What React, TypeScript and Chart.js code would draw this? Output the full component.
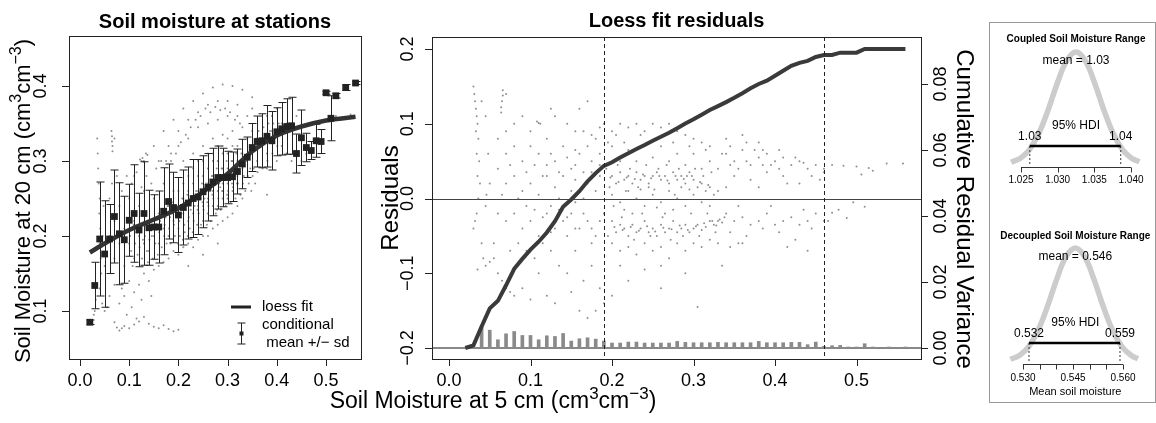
import React, { useEffect, useRef } from "react";
import { Chart, registerables } from "chart.js";
Chart.register(...registerables);

const FONT = '"Liberation Sans", Arial, Helvetica, sans-serif';

// ---------- Left panel data ----------
const BIN_X = [0.02,0.03,0.04,0.05,0.06,0.07,0.08,0.09,0.10,0.11,0.12,0.13,0.14,0.15,0.16,0.17,0.18,0.19,0.20,0.21,0.22,0.23,0.24,0.25,0.26,0.27,0.28,0.29,0.30,0.31,0.32,0.33,0.34,0.35,0.36,0.37,0.38,0.39,0.40,0.41,0.42,0.43,0.44,0.45,0.46,0.47,0.48,0.49,0.50,0.51,0.52,0.54,0.56];
const BIN_MEAN = [0.085,0.134,0.196,0.176,0.196,0.226,0.203,0.195,0.221,0.230,0.208,0.230,0.211,0.212,0.212,0.233,0.246,0.238,0.228,0.238,0.244,0.250,0.252,0.259,0.265,0.272,0.278,0.278,0.278,0.279,0.286,0.296,0.305,0.318,0.326,0.327,0.333,0.327,0.339,0.343,0.346,0.347,0.310,0.331,0.318,0.314,0.327,0.326,0.391,0.357,0.387,0.398,0.404];
const BIN_SD = [0.003,0.031,0.076,0.071,0.046,0.062,0.068,0.058,0.048,0.065,0.049,0.069,0.050,0.043,0.048,0.058,0.050,0.047,0.050,0.050,0.048,0.052,0.050,0.048,0.045,0.045,0.042,0.039,0.035,0.033,0.030,0.033,0.027,0.032,0.034,0.036,0.041,0.039,0.032,0.035,0.037,0.038,0.026,0.037,0.019,0.012,0.022,0.016,0.002,0.030,0.003,0.004,0.002];
const LOESS_X = [0.02,0.05,0.10,0.15,0.20,0.25,0.30,0.35,0.40,0.45,0.50,0.56];
const LOESS_Y = [0.178,0.190,0.208,0.222,0.237,0.259,0.283,0.313,0.334,0.346,0.354,0.359];
const STATION_PTS = [
  [0.035,0.33],[0.036,0.31],[0.037,0.29],[0.038,0.27],[0.04,0.25],[0.039,0.23],[0.041,0.21],[0.04,0.19],[0.042,0.17],[0.043,0.15],[0.04,0.13],[0.045,0.11],[0.05,0.1],[0.055,0.105],[0.03,0.1],[0.028,0.095],[0.032,0.115],[0.046,0.2],[0.048,0.24],[0.05,0.16],
  [0.064,0.34],[0.065,0.333],[0.065,0.326],[0.066,0.32],[0.066,0.313],[0.07,0.33],
  [0.122,0.302],[0.125,0.3],[0.127,0.304],[0.129,0.299],[0.134,0.31],[0.137,0.308],
  [0.07,0.085],[0.075,0.078],[0.08,0.074],[0.085,0.077],[0.09,0.08],[0.1,0.077],[0.11,0.082],[0.115,0.09],[0.12,0.086],[0.13,0.092],[0.14,0.083],[0.15,0.079],[0.16,0.077],[0.17,0.081],[0.18,0.076],[0.19,0.073],[0.2,0.075],
  [0.06,0.12],[0.07,0.135],[0.08,0.11],[0.085,0.13],[0.09,0.12],[0.1,0.14],[0.11,0.125],[0.12,0.135],[0.13,0.15],[0.14,0.14],[0.15,0.155],[0.16,0.16],[0.17,0.165],[0.18,0.17],[0.19,0.18],[0.2,0.175],[0.21,0.185],[0.22,0.19],[0.23,0.185],[0.24,0.195],[0.25,0.2],[0.26,0.2],[0.27,0.21],[0.28,0.215],[0.29,0.22],[0.3,0.225],[0.31,0.23],[0.32,0.24],[0.33,0.25],[0.25,0.175],[0.28,0.19],[0.22,0.16],[0.38,0.255],[0.095,0.095],[0.105,0.105],[0.125,0.115],[0.145,0.12],
  [0.06,0.2],[0.06,0.25],[0.07,0.22],[0.07,0.17],[0.08,0.24],[0.08,0.19],[0.09,0.21],[0.09,0.16],[0.1,0.25],[0.1,0.19],[0.11,0.22],[0.11,0.17],[0.12,0.24],[0.12,0.2],[0.13,0.26],[0.13,0.19],[0.14,0.22],[0.14,0.18],[0.15,0.25],[0.15,0.2],[0.16,0.23],[0.16,0.19],[0.17,0.27],[0.17,0.21],[0.18,0.24],[0.18,0.2],[0.19,0.26],[0.19,0.22],[0.065,0.27],[0.075,0.28],[0.085,0.26],[0.095,0.28],[0.105,0.27],[0.115,0.285],[0.135,0.28],[0.155,0.29],[0.165,0.3],[0.175,0.3],[0.185,0.31],[0.145,0.27],[0.125,0.265],
  [0.11,0.28],[0.13,0.3],[0.15,0.32],[0.17,0.34],[0.19,0.355],[0.21,0.37],[0.23,0.38],[0.25,0.39],[0.27,0.398],[0.29,0.402],[0.31,0.4],[0.33,0.395],[0.35,0.385],[0.16,0.3],[0.18,0.32],[0.2,0.34],[0.22,0.355],[0.24,0.365],[0.26,0.375],[0.28,0.38],[0.3,0.38],[0.32,0.375],[0.2,0.32],[0.22,0.33],[0.24,0.345],[0.26,0.35],[0.28,0.355],[0.3,0.36],[0.32,0.36],[0.34,0.36],[0.21,0.3],[0.23,0.31],[0.25,0.32],[0.27,0.33],[0.29,0.335],[0.31,0.34],[0.33,0.345],
  [0.185,0.3],[0.195,0.31],[0.205,0.325],[0.215,0.335],[0.225,0.345],[0.235,0.355],[0.245,0.36],[0.255,0.37],[0.265,0.365],[0.275,0.372],[0.285,0.368],[0.295,0.37],[0.305,0.365],[0.315,0.355],[0.325,0.35],
  [0.2,0.24],[0.2,0.26],[0.2,0.21],[0.21,0.25],[0.21,0.23],[0.21,0.27],[0.22,0.24],[0.22,0.26],[0.22,0.22],[0.23,0.25],[0.23,0.27],[0.23,0.23],[0.24,0.26],[0.24,0.28],[0.24,0.24],[0.25,0.26],[0.25,0.28],[0.25,0.24],[0.25,0.22],[0.26,0.27],[0.26,0.29],[0.26,0.25],[0.26,0.23],[0.27,0.28],[0.27,0.26],[0.27,0.3],[0.27,0.24],[0.28,0.28],[0.28,0.26],[0.28,0.3],[0.28,0.24],[0.29,0.29],[0.29,0.27],[0.29,0.25],[0.29,0.31],[0.3,0.29],[0.3,0.27],[0.3,0.31],[0.3,0.25],[0.31,0.3],[0.31,0.28],[0.31,0.26],[0.32,0.3],[0.32,0.28],[0.32,0.32],[0.33,0.31],[0.33,0.29],[0.215,0.245],[0.235,0.255],[0.255,0.265],[0.275,0.275],[0.295,0.28],[0.315,0.29],[0.205,0.23],[0.225,0.235],[0.245,0.25],[0.265,0.26],[0.285,0.265],[0.305,0.275],[0.325,0.285],[0.22,0.28],[0.24,0.3],[0.26,0.31],[0.28,0.32],[0.3,0.33],[0.23,0.29],[0.25,0.3],[0.27,0.31],[0.29,0.32],[0.31,0.32],
  [0.102,0.2],[0.104,0.18],[0.107,0.16],[0.109,0.215],[0.112,0.19],[0.114,0.205],[0.117,0.175],[0.121,0.185],[0.123,0.21],[0.126,0.17],[0.128,0.195],[0.132,0.2],[0.133,0.215],[0.136,0.18],[0.138,0.165],[0.141,0.195],[0.143,0.21],[0.146,0.2],[0.148,0.17],[0.151,0.21],[0.153,0.19],[0.156,0.225],[0.158,0.175],[0.161,0.205],[0.163,0.22],[0.166,0.185],[0.168,0.235],
  [0.171,0.2],[0.172,0.215],[0.174,0.225],[0.176,0.19],[0.178,0.24],[0.181,0.21],[0.183,0.225],[0.184,0.19],[0.187,0.23],[0.189,0.245],[0.191,0.215],[0.193,0.2],[0.195,0.23],[0.197,0.24],[0.199,0.19],
  [0.202,0.22],[0.203,0.2],[0.206,0.235],[0.208,0.25],[0.209,0.195],[0.212,0.215],[0.213,0.205],[0.216,0.24],[0.218,0.255],[0.219,0.2],[0.221,0.225],[0.223,0.21],[0.226,0.245],[0.228,0.25],[0.229,0.205],[0.231,0.22],[0.233,0.24],[0.236,0.26],[0.238,0.215],[0.239,0.235],
  [0.241,0.23],[0.243,0.25],[0.246,0.215],[0.248,0.27],[0.249,0.245],[0.251,0.235],[0.253,0.25],[0.256,0.27],[0.258,0.215],[0.259,0.245],[0.261,0.24],[0.263,0.26],[0.266,0.22],[0.268,0.28],[0.269,0.255],[0.271,0.25],[0.273,0.27],[0.276,0.23],[0.278,0.29],[0.279,0.235],
  [0.281,0.25],[0.283,0.27],[0.286,0.235],[0.288,0.29],[0.289,0.26],[0.291,0.26],[0.293,0.28],[0.296,0.24],[0.298,0.3],[0.299,0.255],[0.301,0.26],[0.303,0.28],[0.306,0.245],[0.308,0.3],[0.309,0.27],[0.311,0.265],[0.313,0.285],[0.316,0.25],[0.318,0.31],[0.319,0.27],
  [0.321,0.27],[0.323,0.29],[0.326,0.255],[0.328,0.31],[0.331,0.27],[0.333,0.28],[0.336,0.26],[0.338,0.3],[0.341,0.28],[0.343,0.27],[0.346,0.29],[0.348,0.26],[0.351,0.28],[0.353,0.29],[0.356,0.27],[0.358,0.33],[0.361,0.285],[0.363,0.34],[0.366,0.33],[0.371,0.29],[0.373,0.345],[0.376,0.335],[0.381,0.3],[0.383,0.35],[0.386,0.34],[0.391,0.31],[0.393,0.35],[0.401,0.32],[0.404,0.35],[0.407,0.34],
  [0.34,0.33],[0.35,0.37],[0.36,0.3],[0.37,0.36],[0.38,0.31],[0.39,0.34],[0.4,0.37],[0.41,0.32],[0.42,0.35],[0.43,0.3],[0.44,0.36],[0.45,0.33],[0.46,0.31],[0.47,0.35],[0.48,0.33],[0.5,0.355],[0.52,0.36],[0.55,0.362],[0.35,0.34],[0.37,0.33],[0.39,0.36],[0.41,0.35],[0.43,0.34],[0.36,0.32],[0.38,0.29],[0.4,0.3],[0.42,0.31],[0.45,0.3],[0.38,0.36],
];
const LEFT_X_TICKS = [0, 0.1, 0.2, 0.3, 0.4, 0.5];
const LEFT_Y_TICKS = [0.1, 0.2, 0.3, 0.4];

// ---------- Middle panel data ----------
const CUM_VAR = [0.0000,0.0008,0.0065,0.0120,0.0143,0.0190,0.0240,0.0270,0.0298,0.0322,0.0350,0.0384,0.0428,0.0450,0.0475,0.0505,0.0530,0.0552,0.0563,0.0577,0.0590,0.0603,0.0615,0.0628,0.0640,0.0652,0.0666,0.0680,0.0693,0.0707,0.0721,0.0733,0.0745,0.0758,0.0772,0.0787,0.0800,0.0810,0.0825,0.0840,0.0855,0.0864,0.0870,0.0882,0.0888,0.0888,0.0895,0.0895,0.0895,0.0906,0.0906,0.0906,0.0906];
const INC_VAR = [0.0002,0.0004,0.0064,0.0054,0.0025,0.0043,0.0050,0.0038,0.0038,0.0025,0.0037,0.0035,0.0044,0.0021,0.0028,0.0031,0.0027,0.0021,0.0015,0.0015,0.0018,0.0018,0.0015,0.0015,0.0015,0.0015,0.0020,0.0017,0.0016,0.0016,0.0016,0.0017,0.0016,0.0016,0.0016,0.0016,0.0020,0.0016,0.0016,0.0016,0.0017,0.0017,0.0010,0.0018,0.0005,0.0007,0.0008,0.0003,0.0003,0.0013,0.0003,0.0003,0.0003];
const RESID_PTS = [
  [0.03,0.15],[0.031,0.14],[0.032,0.13],[0.033,0.12],[0.034,0.11],[0.035,0.10],[0.033,0.09],[0.036,0.08],[0.034,0.06],[0.037,0.05],[0.035,0.03],[0.038,0.02],[0.036,0.0],[0.034,-0.02],[0.032,-0.03],[0.03,-0.04],[0.04,-0.06],[0.042,-0.08],[0.035,-0.095],[0.045,-0.09],[0.05,-0.085],[0.055,-0.08],[0.045,0.11],[0.04,0.13],[0.048,0.06],[0.05,0.02],[0.045,-0.01],[0.046,0.005],
  [0.066,0.145],[0.066,0.138],[0.065,0.13],[0.064,0.122],[0.064,0.115],[0.07,0.14],
  [0.06,0.08],[0.07,0.06],[0.08,0.07],[0.09,0.05],[0.1,0.07],[0.11,0.06],[0.12,0.08],[0.13,0.05],[0.14,0.07],[0.15,0.04],[0.16,0.06],[0.17,0.07],[0.18,0.08],[0.19,0.1],[0.185,0.06],[0.175,0.05],[0.165,0.09],[0.155,0.09],[0.145,0.1],[0.11,0.101],[0.112,0.1],[0.108,0.103],[0.09,0.11],[0.1,0.09],[0.08,0.1],[0.07,0.09],[0.125,0.12],[0.13,0.11],[0.16,0.12],[0.17,0.13],[0.14,0.03],[0.12,0.03],[0.1,0.02],[0.08,0.03],[0.06,0.04],[0.07,0.02],[0.09,0.01],[0.11,0.005],[0.13,0.015],[0.15,0.01],[0.17,0.02],[0.18,0.01],[0.12,0.045],[0.095,0.035],[0.075,0.045],[0.065,0.005],[0.155,0.025],[0.165,0.035],[0.185,0.03],
  [0.06,-0.02],[0.07,-0.03],[0.08,-0.02],[0.09,-0.04],[0.1,-0.03],[0.11,-0.05],[0.12,-0.02],[0.13,-0.04],[0.14,-0.03],[0.15,-0.02],[0.16,-0.04],[0.17,-0.03],[0.18,-0.05],[0.19,-0.02],[0.085,-0.06],[0.095,-0.07],[0.105,-0.08],[0.115,-0.06],[0.125,-0.07],[0.135,-0.09],[0.145,-0.1],[0.155,-0.07],[0.165,-0.11],[0.175,-0.09],[0.185,-0.12],[0.19,-0.14],[0.18,-0.15],[0.17,-0.16],[0.07,-0.12],[0.075,-0.125],[0.08,-0.13],[0.09,-0.12],[0.1,-0.135],[0.12,-0.13],[0.13,-0.14],[0.15,-0.125],[0.16,-0.15],[0.11,-0.1],[0.06,-0.1],[0.065,-0.11],[0.055,-0.06],[0.075,-0.07],[0.2,-0.13],[0.175,-0.06],[0.145,-0.05],[0.125,-0.01],[0.095,-0.01],[0.085,0.0],[0.105,-0.015],[0.135,0.0],[0.155,-0.005],[0.165,0.0],
  [0.105,0.045],[0.115,0.03],[0.125,0.06],[0.135,0.035],[0.145,0.055],[0.155,0.045],[0.165,0.015],[0.175,0.035],[0.185,0.045],[0.115,-0.025],[0.125,-0.045],[0.135,-0.015],[0.145,-0.025],[0.155,-0.04],[0.165,-0.02],[0.175,-0.04],[0.185,-0.03],[0.195,-0.05],[0.155,0.065],[0.175,0.085],[0.185,0.095],[0.195,0.075],
  [0.2,0.09],[0.21,0.1],[0.22,0.095],[0.23,0.1],[0.24,0.09],[0.25,0.1],[0.26,0.095],[0.27,0.1],[0.28,0.09],[0.29,0.085],[0.3,0.08],[0.31,0.075],[0.32,0.07],[0.2,0.07],[0.22,0.065],[0.24,0.07],[0.26,0.07],[0.28,0.06],[0.3,0.06],[0.32,0.05],[0.21,0.05],[0.23,0.05],[0.25,0.055],[0.27,0.05],[0.29,0.045],[0.31,0.04],[0.33,0.04],
  [0.205,0.085],[0.215,0.075],[0.235,0.085],[0.255,0.08],[0.275,0.075],[0.295,0.07],[0.315,0.065],[0.335,0.06],[0.345,0.07],[0.365,0.075],[0.385,0.065],[0.405,0.065],[0.345,0.045],[0.365,0.05],[0.385,0.045],[0.405,0.04],
  [0.2,0.03],[0.205,0.02],[0.21,0.035],[0.215,0.025],[0.22,0.03],[0.225,0.02],[0.23,0.035],[0.235,0.025],[0.24,0.03],[0.245,0.02],[0.25,0.03],[0.255,0.035],[0.26,0.025],[0.265,0.03],[0.27,0.02],[0.275,0.035],[0.28,0.025],[0.285,0.03],[0.29,0.02],[0.295,0.035],[0.3,0.025],[0.305,0.015],[0.31,0.02],[0.315,0.01],[0.32,0.015],[0.325,0.005],[0.33,0.01],
  [0.193,0.04],[0.197,0.015],[0.202,-0.01],[0.207,0.045],[0.212,-0.025],[0.217,0.01],[0.222,0.04],[0.227,-0.055],[0.232,0.015],[0.237,-0.02],[0.242,0.045],[0.247,-0.05],[0.252,0.012],[0.257,0.04],[0.262,-0.025],[0.267,0.045],[0.272,-0.055],[0.277,0.005],[0.282,0.04],[0.287,-0.05],[0.292,0.03],[0.297,-0.02],[0.302,0.04],[0.307,-0.05],[0.312,0.03],[0.317,-0.02],[0.322,0.035],[0.327,-0.045],
  [0.198,0.028],[0.203,-0.038],[0.208,0.022],[0.213,-0.042],[0.218,0.028],[0.223,-0.038],[0.228,0.026],[0.233,-0.043],[0.238,0.032],[0.243,-0.037],[0.248,0.027],[0.253,-0.044],[0.258,0.03],[0.263,-0.039],[0.268,0.024],[0.273,-0.041],[0.278,0.03],[0.283,-0.036],[0.288,0.026],[0.293,-0.042],[0.298,0.03],[0.303,-0.037],[0.308,0.022],[0.313,-0.033],[0.318,0.018],[0.323,-0.03],[0.328,-0.036],[0.332,-0.028],[0.335,-0.032],[0.338,-0.025],
  [0.2,0.005],[0.21,-0.005],[0.22,0.01],[0.23,0.0],[0.24,-0.01],[0.25,0.005],[0.26,-0.005],[0.27,0.01],[0.28,0.0],[0.29,-0.01],[0.3,0.005],[0.31,-0.005],[0.32,-0.01],[0.215,-0.015],[0.235,0.012],[0.255,-0.012],[0.275,-0.015],[0.295,0.012],[0.225,-0.02],[0.245,0.015],[0.265,-0.02],[0.285,0.015],
  [0.2,-0.03],[0.205,-0.045],[0.21,-0.035],[0.215,-0.04],[0.22,-0.05],[0.225,-0.035],[0.23,-0.045],[0.235,-0.04],[0.24,-0.03],[0.245,-0.045],[0.25,-0.04],[0.255,-0.05],[0.26,-0.035],[0.265,-0.045],[0.27,-0.04],[0.275,-0.03],[0.28,-0.045],[0.285,-0.04],[0.29,-0.035],[0.295,-0.045],[0.3,-0.04],[0.305,-0.035],[0.31,-0.042],[0.315,-0.038],[0.32,-0.03],[0.325,-0.035],[0.33,-0.03],
  [0.2,-0.06],[0.21,-0.07],[0.22,-0.065],[0.23,-0.075],[0.24,-0.06],[0.25,-0.07],[0.26,-0.065],[0.27,-0.08],[0.28,-0.06],[0.29,-0.07],[0.3,-0.06],[0.31,-0.065],[0.32,-0.055],[0.21,-0.09],[0.24,-0.095],[0.26,-0.09],[0.29,-0.1],[0.22,-0.11],[0.26,-0.12],[0.305,-0.145],
  [0.34,0.06],[0.35,0.05],[0.36,0.065],[0.37,0.045],[0.38,0.055],[0.39,0.06],[0.4,0.05],[0.41,0.055],[0.42,0.045],[0.43,0.05],[0.44,0.04],[0.45,0.045],[0.46,0.04],[0.35,0.03],[0.37,0.025],[0.39,0.035],[0.41,0.03],[0.43,0.02],[0.36,0.085],[0.38,0.075],[0.34,0.08],[0.355,0.04],[0.375,0.065],[0.395,0.045],[0.415,0.02],[0.425,0.055],[0.435,0.048],[0.445,0.03],[0.455,0.025],[0.34,0.015],[0.38,0.015],
  [0.34,-0.02],[0.35,-0.03],[0.36,-0.025],[0.37,-0.035],[0.38,-0.03],[0.39,-0.02],[0.4,-0.035],[0.41,-0.03],[0.42,-0.025],[0.43,-0.035],[0.44,-0.03],[0.45,-0.02],[0.46,-0.03],[0.345,-0.045],[0.365,-0.05],[0.385,-0.04],[0.405,-0.045],[0.425,-0.055],[0.445,-0.04],[0.355,-0.01],[0.395,-0.01],[0.435,-0.015],[0.415,-0.065],[0.44,-0.07],[0.36,-0.06],[0.335,-0.09],[0.33,-0.06],[0.345,-0.065],[0.355,-0.06],
  [0.47,0.045],[0.484,0.044],[0.5,0.043],[0.515,0.041],[0.537,0.047],[0.557,0.047],[0.506,0.032],[0.52,0.037],[0.51,-0.011],[0.496,-0.005],[0.488,-0.026],[0.47,-0.019],[0.465,-0.03],[0.478,-0.015],[0.46,0.035],
];
const SPLIT_X = [0.19, 0.46];
const MID_X_TICKS = [0, 0.1, 0.2, 0.3, 0.4, 0.5];
const MID_Y_TICKS = [-0.2, -0.1, 0, 0.1, 0.2];
const MID_R_TICKS = [0, 0.02, 0.04, 0.06, 0.08];

// ---------- Right panels data ----------
const COUPLED_X = [1.02365,1.02492,1.02618,1.02744,1.02871,1.02997,1.03124,1.0325,1.03376,1.03503,1.03629,1.03756,1.03882,1.04008,1.04115];
const COUPLED_DENS = [0.02,0.056,0.135,0.278,0.487,0.726,0.923,1.0,0.923,0.726,0.487,0.278,0.135,0.056,0.025];
const COUPLED_HDI = [1.0262, 1.0386];
const COUPLED_TICKS = [1.025, 1.03, 1.035, 1.04];
const COUPLED_LABELS = ["1.025", "1.030", "1.035", "1.040"];
const DECOUPLED_X = [0.52621,0.529,0.53178,0.53456,0.53735,0.54013,0.54292,0.5457,0.54848,0.55127,0.55405,0.55684,0.55962,0.5624,0.5645];
const DECOUPLED_DENS = [0.02,0.056,0.135,0.278,0.487,0.726,0.923,1.0,0.923,0.726,0.487,0.278,0.135,0.056,0.025];
const DECOUPLED_HDI = [0.5318, 0.5591];
const DECOUPLED_TICKS = [0.53, 0.535, 0.54, 0.545, 0.55, 0.555, 0.56];
const DECOUPLED_LABELS = ["0.530", "", "", "0.545", "", "", "0.560"];
const HDI_LEVEL = 0.164;

// ---------- helpers ----------
type Seg = { t: string; sup?: boolean };
function drawRich(ctx: CanvasRenderingContext2D, segs: Seg[], x: number, y: number, size: number) {
  const base = `${size}px ${FONT}`;
  const sup = `${Math.round(size * 0.72)}px ${FONT}`;
  let total = 0;
  const ws = segs.map((s) => { ctx.font = s.sup ? sup : base; const w = ctx.measureText(s.t).width; total += w; return w; });
  let cx = x - total / 2;
  ctx.textAlign = "left";
  ctx.textBaseline = "alphabetic";
  segs.forEach((s, i) => {
    ctx.font = s.sup ? sup : base;
    ctx.fillText(s.t, cx, s.sup ? y - size * 0.4 : y);
    cx += ws[i];
  });
}
function rotText(ctx: CanvasRenderingContext2D, text: string, x: number, y: number, angle: number, font: string) {
  ctx.save();
  ctx.translate(x, y);
  ctx.rotate(angle);
  ctx.font = font;
  ctx.textAlign = "center";
  ctx.textBaseline = "alphabetic";
  ctx.fillText(text, 0, 0);
  ctx.restore();
}
const fmt = (v: number) => (v < 0 ? "\u2212" : "") + Math.abs(v).toFixed(1);

const baseOptions = (pad: any, scales: any) => ({
  animation: false as const,
  responsive: false,
  events: [] as any[],
  layout: { padding: pad },
  plugins: { legend: { display: false }, tooltip: { enabled: false } },
  scales,
});

const DOT = "rgba(95,95,95,0.7)";

// ---------- plugins ----------
const leftDecor = {
  id: "leftDecor",
  afterDatasetDraw(chart: any, args: any) {
    if (args.index !== 2) return;
    const { ctx, scales: { x, y } } = chart;
    ctx.save();
    ctx.strokeStyle = "#222";
    ctx.lineWidth = 1;
    ctx.beginPath();
    BIN_X.forEach((bx, i) => {
      const px = Math.round(x.getPixelForValue(bx)) + 0.5;
      const t = y.getPixelForValue(BIN_MEAN[i] + BIN_SD[i]);
      const b = y.getPixelForValue(BIN_MEAN[i] - BIN_SD[i]);
      ctx.moveTo(px, t); ctx.lineTo(px, b);
      ctx.moveTo(px - 4, t); ctx.lineTo(px + 4, t);
      ctx.moveTo(px - 4, b); ctx.lineTo(px + 4, b);
    });
    ctx.stroke();
    ctx.restore();
  },
  afterDraw(chart: any) {
    const { ctx, chartArea: a, scales: { x, y } } = chart;
    ctx.save();
    ctx.strokeStyle = "#222";
    ctx.lineWidth = 1;
    ctx.strokeRect(a.left + 0.5, a.top + 0.5, a.right - a.left, a.bottom - a.top);
    ctx.fillStyle = "#000";
    ctx.beginPath();
    LEFT_X_TICKS.forEach((v) => { const px = Math.round(x.getPixelForValue(v)) + 0.5; ctx.moveTo(px, a.bottom); ctx.lineTo(px, a.bottom + 7); });
    LEFT_Y_TICKS.forEach((v) => { const py = Math.round(y.getPixelForValue(v)) + 0.5; ctx.moveTo(a.left, py); ctx.lineTo(a.left - 7, py); });
    ctx.stroke();
    ctx.font = `18px ${FONT}`;
    ctx.textAlign = "center";
    ctx.textBaseline = "alphabetic";
    LEFT_X_TICKS.forEach((v) => ctx.fillText(v.toFixed(1), x.getPixelForValue(v), a.bottom + 27));
    LEFT_Y_TICKS.forEach((v) => rotText(ctx, v.toFixed(1), a.left - 23, y.getPixelForValue(v), -Math.PI / 2, `18px ${FONT}`));
    // title
    ctx.font = `bold 20px ${FONT}`;
    ctx.textAlign = "center";
    ctx.fillText("Soil moisture at stations", (a.left + a.right) / 2, 28);
    // y title
    ctx.save();
    ctx.translate(30, 201);
    ctx.rotate(-Math.PI / 2);
    drawRich(ctx, [{ t: "Soil Moisture at 20 cm (cm" }, { t: "3", sup: true }, { t: "cm" }, { t: "\u22123", sup: true }, { t: ")" }], 0, 0, 22);
    ctx.restore();
    // legend
    ctx.strokeStyle = "#222";
    ctx.lineWidth = 3;
    ctx.beginPath(); ctx.moveTo(231, 307); ctx.lineTo(251, 307); ctx.stroke();
    ctx.lineWidth = 1;
    ctx.beginPath();
    ctx.moveTo(241.5, 323); ctx.lineTo(241.5, 344);
    ctx.moveTo(237.5, 323); ctx.lineTo(245.5, 323);
    ctx.moveTo(237.5, 344); ctx.lineTo(245.5, 344);
    ctx.stroke();
    ctx.fillStyle = "#222";
    ctx.fillRect(239.5, 331.5, 4, 4);
    ctx.fillStyle = "#000";
    ctx.font = `15px ${FONT}`;
    ctx.textAlign = "left";
    ctx.textBaseline = "middle";
    ctx.fillText("loess fit", 262, 307);
    ctx.fillText("conditional", 262, 325);
    ctx.fillText(" mean +/\u2212 sd", 262, 343);
    ctx.restore();
  },
};

const midDecor = {
  id: "midDecor",
  beforeDatasetsDraw(chart: any) {
    const { ctx, chartArea: a, scales: { y, yR } } = chart;
    ctx.save();
    ctx.strokeStyle = "#888";
    ctx.lineWidth = 2;
    const by = yR.getPixelForValue(0);
    ctx.beginPath(); ctx.moveTo(a.left, by); ctx.lineTo(a.right, by); ctx.stroke();
    ctx.strokeStyle = "#444";
    ctx.lineWidth = 1;
    const zy = Math.round(y.getPixelForValue(0)) + 0.5;
    ctx.beginPath(); ctx.moveTo(a.left, zy); ctx.lineTo(a.right, zy); ctx.stroke();
    ctx.restore();
  },
  afterDatasetsDraw(chart: any) {
    const { ctx, chartArea: a, scales: { x } } = chart;
    ctx.save();
    ctx.strokeStyle = "#222";
    ctx.lineWidth = 1;
    ctx.setLineDash([4, 3]);
    SPLIT_X.forEach((v) => { const px = Math.round(x.getPixelForValue(v)) + 0.5; ctx.beginPath(); ctx.moveTo(px, a.top); ctx.lineTo(px, a.bottom); ctx.stroke(); });
    ctx.restore();
  },
  afterDraw(chart: any) {
    const { ctx, chartArea: a, scales: { x, y, yR } } = chart;
    ctx.save();
    ctx.strokeStyle = "#222";
    ctx.lineWidth = 1;
    ctx.strokeRect(a.left + 0.5, a.top + 0.5, a.right - a.left, a.bottom - a.top);
    ctx.beginPath();
    MID_X_TICKS.forEach((v) => { const px = Math.round(x.getPixelForValue(v)) + 0.5; ctx.moveTo(px, a.bottom); ctx.lineTo(px, a.bottom + 7); });
    MID_Y_TICKS.forEach((v) => { const py = Math.round(y.getPixelForValue(v)) + 0.5; ctx.moveTo(a.left, py); ctx.lineTo(a.left - 7, py); });
    MID_R_TICKS.forEach((v) => { const py = Math.round(yR.getPixelForValue(v)) + 0.5; ctx.moveTo(a.right, py); ctx.lineTo(a.right + 7, py); });
    ctx.stroke();
    ctx.fillStyle = "#000";
    ctx.font = `18px ${FONT}`;
    ctx.textAlign = "center";
    ctx.textBaseline = "alphabetic";
    MID_X_TICKS.forEach((v) => ctx.fillText(v.toFixed(1), x.getPixelForValue(v), a.bottom + 27));
    MID_Y_TICKS.forEach((v) => rotText(ctx, fmt(v), a.left - 19, y.getPixelForValue(v), -Math.PI / 2, `18px ${FONT}`));
    MID_R_TICKS.forEach((v) => rotText(ctx, v.toFixed(2), a.right + 25, yR.getPixelForValue(v), -Math.PI / 2, `18px ${FONT}`));
    ctx.font = `bold 20px ${FONT}`;
    ctx.fillText("Loess fit residuals", (a.left + a.right) / 2, 27);
    rotText(ctx, "Residuals", a.left - 34, (a.top + a.bottom) / 2, -Math.PI / 2, `24px ${FONT}`);
    rotText(ctx, "Cumulative Residual Variance", a.right + 36, 209, Math.PI / 2, `24px ${FONT}`);
    drawRich(ctx, [{ t: "Soil Moisture at 5 cm (cm" }, { t: "3", sup: true }, { t: "cm" }, { t: "\u22123", sup: true }, { t: ")" }], 193, 408, 23);
    ctx.restore();
  },
};

function makeHdiDecor(id: string, opts: any) {
  return {
    id,
    afterDraw(chart: any) {
      const { ctx, scales: { x } } = chart;
      const cx = x.getPixelForValue(opts.center);
      ctx.save();
      ctx.fillStyle = "#000";
      ctx.textAlign = "center";
      ctx.textBaseline = "alphabetic";
      ctx.font = `bold 10px ${FONT}`;
      ctx.fillText(opts.title, cx, opts.titleY);
      ctx.font = `12px ${FONT}`;
      ctx.fillText(opts.meanLabel, cx, opts.meanY);
      ctx.fillText("95% HDI", cx, opts.hdiTextY);
      ctx.fillText(opts.hdiLabels[0], x.getPixelForValue(opts.hdi[0]), opts.hdiLabelY);
      ctx.fillText(opts.hdiLabels[1], x.getPixelForValue(opts.hdi[1]), opts.hdiLabelY);
      ctx.strokeStyle = "#333";
      ctx.lineWidth = 1;
      const ax = opts.axisY + 0.5;
      const t0 = x.getPixelForValue(opts.ticks[0]);
      const t1 = x.getPixelForValue(opts.ticks[opts.ticks.length - 1]);
      ctx.beginPath();
      ctx.moveTo(t0, ax); ctx.lineTo(t1, ax);
      opts.ticks.forEach((v: number) => { const px = Math.round(x.getPixelForValue(v)) + 0.5; ctx.moveTo(px, ax); ctx.lineTo(px, ax + 5); });
      ctx.stroke();
      ctx.font = `10px ${FONT}`;
      opts.ticks.forEach((v: number, i: number) => { if (opts.labels[i]) ctx.fillText(opts.labels[i], x.getPixelForValue(v), opts.tickLabelY); });
      if (opts.xTitle) {
        ctx.font = `11px ${FONT}`;
        ctx.fillText(opts.xTitle, cx, opts.xTitleY);
      }
      ctx.restore();
    },
  };
}

function hdiDatasets(xs: number[], ds: number[], hdi: number[]) {
  return [
    { data: [{ x: hdi[0], y: HDI_LEVEL }, { x: hdi[1], y: HDI_LEVEL }], showLine: true, borderColor: "#000", borderWidth: 2.5, pointRadius: 0 },
    { data: [{ x: hdi[0], y: HDI_LEVEL }, { x: hdi[0], y: 0 }], showLine: true, borderColor: "#333", borderWidth: 1, borderDash: [2, 2], pointRadius: 0 },
    { data: [{ x: hdi[1], y: HDI_LEVEL }, { x: hdi[1], y: 0 }], showLine: true, borderColor: "#333", borderWidth: 1, borderDash: [2, 2], pointRadius: 0 },
    { data: xs.map((x, i) => ({ x, y: ds[i] })), showLine: true, borderColor: "#cccccc", borderWidth: 5.5, pointRadius: 0, tension: 0.4, clip: false },
  ];
}

export default function App() {
  const leftRef = useRef<HTMLCanvasElement>(null);
  const midRef = useRef<HTMLCanvasElement>(null);
  const cRef = useRef<HTMLCanvasElement>(null);
  const dRef = useRef<HTMLCanvasElement>(null);

  useEffect(() => {
    const charts: Chart[] = [];
    charts.push(new Chart(leftRef.current!, {
      type: "scatter",
      data: {
        datasets: [
          { data: BIN_X.map((x, i) => ({ x, y: BIN_MEAN[i] })), pointStyle: "rect", pointRadius: 4.8, backgroundColor: "#222", borderWidth: 0 } as any,
          { type: "line", data: LOESS_X.map((x, i) => ({ x, y: LOESS_Y[i] })), borderColor: "#333", borderWidth: 4.5, pointRadius: 0, tension: 0.4, cubicInterpolationMode: "monotone", fill: false } as any,
          { data: STATION_PTS.map(([x, y]) => ({ x, y })), pointRadius: 1, backgroundColor: DOT, borderWidth: 0 } as any,
        ],
      },
      options: baseOptions({ left: 69, top: 36, right: 9, bottom: 64 }, {
        x: { type: "linear", display: false, min: -0.02236, max: 0.5711 },
        y: { type: "linear", display: false, min: 0.036, max: 0.4667 },
      }) as any,
      plugins: [leftDecor],
    }));
    charts.push(new Chart(midRef.current!, {
      type: "scatter",
      data: {
        datasets: [
          { type: "line", yAxisID: "yR", data: BIN_X.map((x, i) => ({ x, y: CUM_VAR[i] })), borderColor: "#3a3a3a", borderWidth: 4, pointRadius: 0, tension: 0, fill: false } as any,
          { type: "bar", yAxisID: "yR", data: BIN_X.map((x, i) => ({ x, y: INC_VAR[i] })), backgroundColor: "#8a8a8a", barThickness: 3, grouped: false } as any,
          { yAxisID: "y", data: RESID_PTS.map(([x, y]) => ({ x, y })), pointRadius: 1, backgroundColor: DOT, borderWidth: 0 } as any,
        ],
      },
      options: baseOptions({ left: 132, top: 37, right: 69, bottom: 64 }, {
        x: { type: "linear", display: false, min: -0.02086, max: 0.5791, offset: false },
        y: { type: "linear", display: false, min: -0.2147, max: 0.2161 },
        yR: { type: "linear", display: false, position: "right", min: -0.003333, max: 0.09424 },
      }) as any,
      plugins: [midDecor],
    }));
    charts.push(new Chart(cRef.current!, {
      type: "scatter",
      data: { datasets: hdiDatasets(COUPLED_X, COUPLED_DENS, COUPLED_HDI) as any },
      options: baseOptions({ left: 10, top: 18.75, right: 5, bottom: 47.5 }, {
        x: { type: "linear", display: false, min: 1.022136, max: 1.042591 },
        y: { type: "linear", display: false, min: 0, max: 1.1 },
      }) as any,
      plugins: [makeHdiDecor("coupledDecor", {
        center: 1.0325, title: "Coupled Soil Moisture Range", titleY: 19.5, meanLabel: "mean = 1.03", meanY: 42,
        hdiTextY: 107, hdi: COUPLED_HDI, hdiLabels: ["1.03", "1.04"], hdiLabelY: 118,
        axisY: 145, ticks: COUPLED_TICKS, labels: COUPLED_LABELS, tickLabelY: 161,
      })],
    }));
    charts.push(new Chart(dRef.current!, {
      type: "scatter",
      data: { datasets: hdiDatasets(DECOUPLED_X, DECOUPLED_DENS, DECOUPLED_HDI) as any },
      options: baseOptions({ left: 10, top: 24.6, right: 5, bottom: 40.4 }, {
        x: { type: "linear", display: false, min: 0.5231, max: 0.5681 },
        y: { type: "linear", display: false, min: 0, max: 1.1 },
      }) as any,
      plugins: [makeHdiDecor("decoupledDecor", {
        center: 0.5457, title: "Decoupled Soil Moisture Range", titleY: 26.5, meanLabel: "mean = 0.546", meanY: 48,
        hdiTextY: 114, hdi: DECOUPLED_HDI, hdiLabels: ["0.532", "0.559"], hdiLabelY: 125,
        axisY: 152, ticks: DECOUPLED_TICKS, labels: DECOUPLED_LABELS, tickLabelY: 169,
        xTitle: "Mean soil moisture", xTitleY: 183,
      })],
    }));
    return () => charts.forEach((c) => c.destroy());
  }, []);

  return (
    <div style={{ position: "fixed", left: 0, top: 0, width: 1156, height: 423, background: "#fff", overflow: "hidden" }}>
      <canvas ref={leftRef} width={370} height={423} style={{ position: "absolute", left: 0, top: 0 }} />
      <canvas ref={midRef} width={690} height={423} style={{ position: "absolute", left: 300, top: 0 }} />
      <div style={{ position: "absolute", left: 989, top: 22, width: 167, height: 381, border: "1px solid #999", boxSizing: "border-box" }} />
      <canvas ref={cRef} width={165} height={190} style={{ position: "absolute", left: 990, top: 22 }} />
      <canvas ref={dRef} width={165} height={190} style={{ position: "absolute", left: 990, top: 212 }} />
    </div>
  );
}
